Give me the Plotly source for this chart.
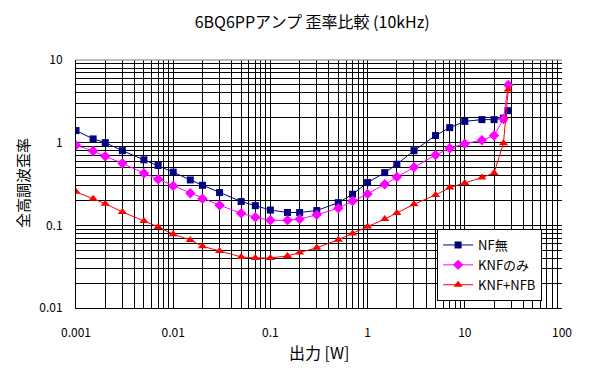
import plotly.graph_objects as go

power_w = [0.001, 0.0015, 0.002, 0.003, 0.005, 0.007, 0.01, 0.015, 0.02, 0.03,
           0.05, 0.07, 0.1, 0.15, 0.2, 0.3, 0.5, 0.7, 1, 1.5, 2, 3, 5, 7, 10,
           15, 20, 25, 28]

thd_nf_none = [1.40, 1.11, 1.00, 0.80, 0.62, 0.53, 0.44, 0.354, 0.305, 0.249,
               0.194, 0.173, 0.153, 0.143, 0.143, 0.151, 0.188, 0.238, 0.329,
               0.434, 0.548, 0.80, 1.22, 1.52, 1.81, 1.90, 1.90, 1.98, 2.44]

thd_knf = [0.93, 0.794, 0.684, 0.563, 0.427, 0.361, 0.299, 0.244, 0.21, 0.175,
           0.140, 0.125, 0.115, 0.115, 0.119, 0.134, 0.161, 0.197, 0.240,
           0.314, 0.385, 0.504, 0.71, 0.855, 0.973, 1.07, 1.22, 1.93, 5.0]

thd_knf_nfb = [0.254, 0.209, 0.183, 0.145, 0.113, 0.0957, 0.078, 0.0666,
               0.0558, 0.049, 0.0415, 0.0403, 0.0403, 0.0427, 0.047, 0.0535,
               0.0671, 0.0794, 0.0965, 0.119, 0.141, 0.180, 0.233, 0.286,
               0.326, 0.378, 0.430, 0.984, 4.4]

series_names = ["NF無", "KNFのみ", "KNF+NFB"]
x_tick_vals = [0.001, 0.01, 0.1, 1, 10, 100]
x_tick_text = ["0.001", "0.01", "0.1", "1", "10", "100"]
y_tick_vals = [0.01, 0.1, 1, 10]
y_tick_text = ["0.01", "0.1", "1", "10"]

FONT = "Noto Sans CJK JP"

fig = go.Figure()
fig.add_trace(go.Scatter(x=power_w, y=thd_nf_none, name=series_names[0],
                         mode="lines+markers",
                         line=dict(color="#000080", width=1),
                         marker=dict(symbol="square", size=7, color="#000080")))
fig.add_trace(go.Scatter(x=power_w, y=thd_knf, name=series_names[1],
                         mode="lines+markers",
                         line=dict(color="#FF00FF", width=1),
                         marker=dict(symbol="diamond", size=8, color="#FF00FF")))
fig.add_trace(go.Scatter(x=power_w, y=thd_knf_nfb, name=series_names[2],
                         mode="lines+markers",
                         line=dict(color="#FF0000", width=1),
                         marker=dict(symbol="triangle-up", size=8, color="#FF0000")))

fig.update_layout(
    width=602, height=376,
    margin=dict(l=68, r=48, t=52, b=76),
    paper_bgcolor="white", plot_bgcolor="white",
    font=dict(family=FONT, size=12, color="black"),
    title=dict(text="6BQ6PPアンプ 歪率比較 (10kHz)", xref="paper", x=0.486,
               xanchor="center", y=0.962, yanchor="middle",
               font=dict(family=FONT, size=16)),
    showlegend=True,
    legend=dict(x=0.743, y=0.3185, xanchor="left", yanchor="top",
                bgcolor="white", bordercolor="black", borderwidth=1,
                font=dict(family=FONT, size=13), tracegroupgap=0,
                itemwidth=30),
    annotations=[
        dict(text="出力 [W]", xref="paper", yref="paper", x=0.5, y=-0.177,
             xanchor="center", yanchor="middle", showarrow=False,
             font=dict(family=FONT, size=16)),
        dict(text="全高調波歪率", xref="paper", yref="paper", x=-0.111, y=0.504,
             xanchor="center", yanchor="middle", showarrow=False, textangle=-90,
             font=dict(family=FONT, size=15)),
    ],
)

fig.update_xaxes(type="log", range=[-3, 2],
                 tickvals=x_tick_vals, ticktext=x_tick_text,
                 showgrid=True, gridcolor="black", gridwidth=1,
                 minor=dict(showgrid=True, gridcolor="black", gridwidth=1, dtick="D1"),
                 showline=True, linecolor="black", linewidth=1,
                 ticks="", zeroline=False, ticklabelstandoff=14)
fig.update_yaxes(type="log", range=[-2, 1],
                 tickvals=y_tick_vals, ticktext=y_tick_text,
                 showgrid=True, gridcolor="black", gridwidth=1,
                 minor=dict(showgrid=True, gridcolor="black", gridwidth=1, dtick="D1"),
                 showline=True, linecolor="black", linewidth=1,
                 ticks="", zeroline=False, ticklabelstandoff=10)

fig.add_shape(type="line", xref="paper", yref="paper", x0=0, x1=1, y0=1, y1=1,
              line=dict(color="#808080", width=1), layer="above")

fig.write_html("out.html")
